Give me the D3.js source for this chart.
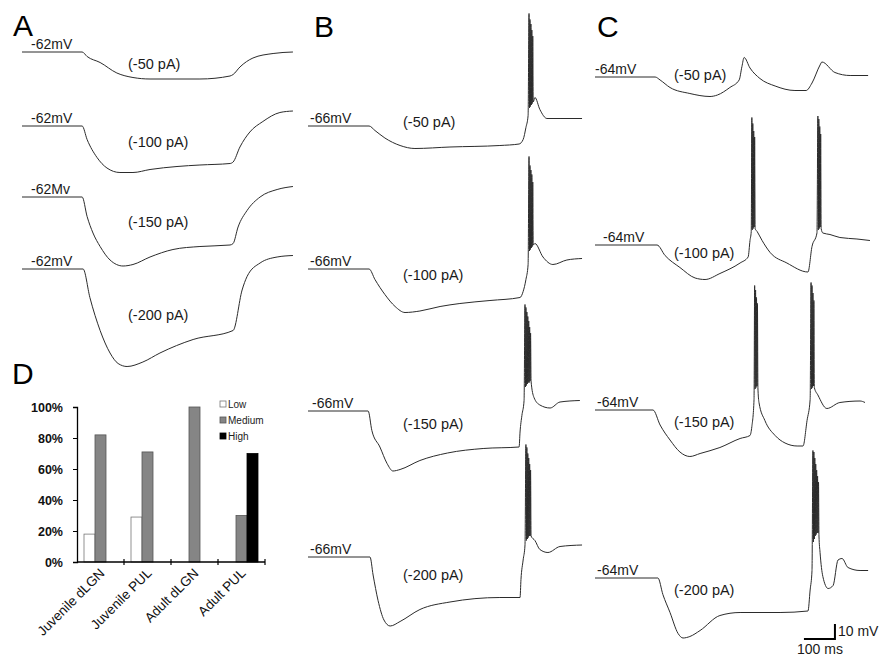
<!DOCTYPE html>
<html>
<head>
<meta charset="utf-8">
<script src="https://cdn.jsdelivr.net/npm/d3@7/dist/d3.min.js"></script>
<style>
  body { margin: 0; background: #fff; }
  svg { display: block; font-family: Arial, "Liberation Sans", sans-serif; }
</style>
</head>
<body>
<svg id="chart" width="890" height="656"></svg>
<script>
// ---- panel D data ----
const groups = ['Juvenile dLGN', 'Juvenile PUL', 'Adult dLGN', 'Adult PUL'];
const seriesNames = ['Low', 'Medium', 'High'];
const lowVals = [0.18, 0.29, 0, 0];
const mediumVals = [0.82, 0.71, 1.00, 0.30];
const highVals = [0, 0, 0, 0.70];
const yTicks = [0, 0.2, 0.4, 0.6, 0.8, 1.0];

// ---- trace labels ----
const stepLabels = ['(-50 pA)', '(-100 pA)', '(-150 pA)', '(-200 pA)'];
const restLabelsA = ['-62mV', '-62mV', '-62Mv', '-62mV'];
const restLabelsB = ['-66mV', '-66mV', '-66mV', '-66mV'];
const restLabelsC = ['-64mV', '-64mV', '-64mV', '-64mV'];

// ---- traces: [time ms, membrane potential mV] ----
const traceA1 = [[0,-62],[194,-62],[210,-65],[252,-69],[306,-76],[358,-79],[413,-80],[574,-80],[671,-78],[681,-77],[703,-72],[745,-66],[810,-63],[874,-62]];
const traceA2 = [[0,-62],[194,-62],[210,-71],[242,-83],[274,-90],[316,-93],[358,-93],[413,-91],[500,-89],[574,-88],[671,-87],[681,-86],[703,-76],[735,-66],[777,-59],[832,-53],[874,-52]];
const traceA3 = [[0,-62],[194,-62],[210,-75],[229,-86],[252,-95],[284,-104],[326,-108],[358,-107],[413,-102],[487,-97],[574,-95],[671,-94],[681,-93],[697,-82],[726,-71],[768,-62],[823,-57],[874,-55]];
const traceA4 = [[0,-62],[197,-62],[219,-81],[252,-103],[284,-118],[310,-125],[339,-127],[390,-124],[445,-118],[552,-109],[681,-103],[710,-76],[726,-67],[768,-58],[823,-54],[874,-53]];

const traceB1 = [[0,-66],[197,-66],[216,-69],[248,-74],[297,-79],[345,-81],[458,-80],[619,-79],[681,-78],[694,-75],[703,-67],[710,-59],
  [713,9],[714.5,-54],[716,5],[717.5,-53],[719,2],[720.5,-52],[722,-2],[723.5,-51],[725,-6],[726.5,-50],
  [732,-47],[748,-55],[771,-61],[813,-61],[884,-61]];
const traceB2 = [[0,-66],[197,-66],[216,-73],[248,-83],[281,-91],[313,-95],[361,-94],[426,-91],[490,-89],[587,-87],[684,-85],[694,-81],[703,-73],[710,-63],
  [713,9],[714.5,-54],[716,3],[717.5,-53],[719,0],[720.5,-52],[722,-3],[723.5,-51],[725,-8],[726.5,-50],
  [732,-49],[758,-58],[790,-63],[835,-60],[884,-59]];
const traceB3 = [[0,-66],[194,-66],[206,-79],[232,-90],[255,-101],[274,-106],[297,-105],[361,-99],[450,-94],[565,-91],[681,-90],[684,-80],[690,-69],[697,-59],
  [700,5],[701.5,-50],[703,3],[704.5,-49],[706,0],[707.5,-48],[709,-3],[710.5,-47],[712,-6],[713.5,-47],[715,-10],[716.5,-46],[718,-14],[719.5,-46],
  [729,-57],[748,-62],[781,-64],[813,-60],[877,-59]];
const traceB4 = [[0,-66],[200,-66],[210,-78],[226,-95],[245,-108],[265,-112],[297,-109],[361,-101],[458,-96],[619,-93],[684,-93],[687,-81],[694,-68],[700,-58],
  [703,9],[704.5,-55],[706,7],[707.5,-54],[709,3],[710.5,-53],[712,0],[713.5,-52],[715,-4],[716.5,-52],[718,-8],[719.5,-52],
  [732,-55],[748,-61],[774,-63],[813,-59],[884,-58]];

const traceC1 = [[0,-64],[194,-64],[210,-66],[242,-71],[306,-75],[371,-77],[395,-76],[435,-71],[465,-66],[474,-57],[481,-51],[500,-58],[532,-65],[581,-70],[645,-73],[681,-73],[700,-68],[726,-56],[732,-54],[774,-61],[823,-63],[881,-63]];
const traceC2 = [[0,-64],[200,-64],[226,-71],[274,-79],[323,-86],[355,-87],[403,-83],[468,-76],[494,-72],[500,-61],[504,-55],
  [506,21],[507.5,-54],[509,17],[510.5,-53],[512,12],[513.5,-52],[515,8],[516.5,-53],
  [523,-55],[539,-61],[565,-69],[619,-76],[687,-82],[700,-65],[716,-56],
  [719,22],[720.5,-54],[722,20],[723.5,-53],[725,15],[726.5,-52],[728,10],[729.5,-53],
  [735,-56],[758,-57],[790,-59],[845,-60],[887,-61]];
const traceC3 = [[0,-64],[187,-64],[210,-74],[242,-84],[274,-92],[306,-95],[339,-93],[403,-89],[468,-83],[500,-81],[506,-75],[513,-57],
  [515,19],[516.5,-50],[518,16],[519.5,-49],[521,11],[522.5,-48],[524,7],[525.5,-49],
  [529,-59],[548,-71],[581,-81],[613,-86],[652,-88],[671,-88],[684,-71],[694,-57],
  [697,21],[698.5,-50],[700,19],[701.5,-49],[703,14],[704.5,-48],[706,9],[707.5,-49],
  [719,-54],[748,-63],[790,-59],[855,-58],[871,-59]];
const traceC4 = [[0,-64],[203,-64],[219,-75],[242,-87],[268,-101],[284,-104],[306,-103],[339,-99],[403,-89],[468,-87],[597,-87],[687,-86],[694,-72],[700,-59],
  [703,21],[704.5,-40],[706,20],[707.5,-38],[709,16],[710.5,-36],[712,12],[713.5,-35],[715,8],[716.5,-34],[718,4],[719.5,-34],[721,0],[722.5,-36],
  [726,-47],[735,-63],[752,-71],[768,-69],[784,-52],[797,-51],[816,-57],[855,-59],[881,-59]];

const svg = d3.select('#chart');
const ink = '#1a1a1a';
const traceInk = '#2b2b2b';
const pxPerMs = 0.31;
const pxPerMv = 1.5;

const panels = [
  { letter: 'A', lx: 13, ly: 36, x0: 22, rest: -62, traces: [traceA1, traceA2, traceA3, traceA4],
    bases: [52, 126, 197, 269], restLabels: restLabelsA, restX: [31, 31, 31, 31], stepX: 128, stepY: [69, 147, 227, 320] },
  { letter: 'B', lx: 314, ly: 37, x0: 308, rest: -66, traces: [traceB1, traceB2, traceB3, traceB4],
    bases: [126, 269, 411, 557], restLabels: restLabelsB, restX: [310, 310, 312, 310], stepX: 403, stepY: [127, 280, 429, 580] },
  { letter: 'C', lx: 597, ly: 37, x0: 595, rest: -64, traces: [traceC1, traceC2, traceC3, traceC4],
    bases: [77, 245, 410, 578], restLabels: restLabelsC, restX: [595, 603, 597, 597], stepX: 674, stepY: [80, 258, 427, 595] }
];

panels.forEach(p => {
  const x = d3.scaleLinear().domain([0, 900]).range([p.x0, p.x0 + 900 * pxPerMs]);
  p.x = x;

  svg.append('text')
    .attr('x', p.lx).attr('y', p.ly)
    .attr('fill', '#000')
    .style('font-size', '30px')
    .text(p.letter);

  p.traces.forEach((tr, i) => {
    const y = d3.scaleLinear()
      .domain([p.rest, p.rest + 10])
      .range([p.bases[i], p.bases[i] - 10 * pxPerMv]);

    const line = d3.line()
      .x(d => x(d[0]))
      .y(d => y(d[1]))
      .curve(d3.curveMonotoneX);

    svg.append('path')
      .datum(tr)
      .attr('d', line)
      .attr('fill', 'none')
      .attr('stroke', traceInk)
      .attr('stroke-width', 1)
      .attr('stroke-linejoin', 'round');

    svg.append('text')
      .attr('x', p.restX[i]).attr('y', p.bases[i] - 3)
      .attr('fill', ink)
      .style('font-size', '14px')
      .text(p.restLabels[i]);

    svg.append('text')
      .attr('x', p.stepX).attr('y', p.stepY[i])
      .attr('fill', ink)
      .style('font-size', '14.5px')
      .text(stepLabels[i]);
  });
});

// scale bar (panel C time scale)
const xC = panels[2].x;
const yBar = d3.scaleLinear().domain([0, 10]).range([639, 639 - 10 * pxPerMv]);
svg.append('path')
  .attr('d', `M${xC(674)},${yBar(0)}H${xC(774)}V${yBar(10)}`)
  .attr('fill', 'none')
  .attr('stroke', '#000')
  .attr('stroke-width', 2);
svg.append('text').attr('x', xC(774) + 3).attr('y', 636)
  .style('font-size', '14px').attr('fill', ink).text('10 mV');
svg.append('text').attr('x', 797).attr('y', 654)
  .style('font-size', '14px').attr('fill', ink).text('100 ms');

// ---- panel D bar chart ----
svg.append('text')
  .attr('x', 12).attr('y', 384)
  .style('font-size', '30px')
  .text('D');

const xBand = d3.scaleBand().domain(groups).range([77, 265]);
const xInner = d3.scaleBand().domain(seriesNames).range([7, xBand.bandwidth() - 7]);
const yPct = d3.scaleLinear().domain([0, 1]).range([562, 407]);

const fills = { Low: '#ffffff', Medium: '#858585', High: '#000000' };
const strokes = { Low: '#777777', Medium: '#555555', High: '#000000' };
const valsBySeries = { Low: lowVals, Medium: mediumVals, High: highVals };

const barData = [];
groups.forEach((g, gi) => {
  seriesNames.forEach(s => {
    const v = valsBySeries[s][gi];
    if (v > 0) barData.push({ g, s, v });
  });
});

svg.append('g')
  .selectAll('rect')
  .data(barData)
  .enter()
  .append('rect')
  .attr('x', d => xBand(d.g) + xInner(d.s))
  .attr('y', d => yPct(d.v))
  .attr('width', xInner.bandwidth())
  .attr('height', d => yPct(0) - yPct(d.v))
  .attr('fill', d => fills[d.s])
  .attr('stroke', d => strokes[d.s])
  .attr('stroke-width', 0.8);

const yAxis = svg.append('g')
  .attr('transform', 'translate(77,0)')
  .call(d3.axisLeft(yPct).tickValues(yTicks).tickFormat(d3.format('.0%')).tickSize(4).tickPadding(10));
yAxis.selectAll('text')
  .style('font-size', '12.5px')
  .style('font-weight', 'bold')
  .style('font-family', 'Arial, "Liberation Sans", sans-serif')
  .attr('fill', '#111');
yAxis.select('.domain').attr('stroke', '#000').attr('stroke-width', 1.3);

// x axis with ticks between categories
svg.append('line')
  .attr('x1', 77).attr('x2', 265)
  .attr('y1', yPct(0)).attr('y2', yPct(0))
  .attr('stroke', '#000').attr('stroke-width', 1.3);
svg.append('g')
  .selectAll('line')
  .data(groups)
  .enter()
  .append('line')
  .attr('x1', d => xBand(d) + xBand.bandwidth())
  .attr('x2', d => xBand(d) + xBand.bandwidth())
  .attr('y1', yPct(0) - 3).attr('y2', yPct(0) + 3)
  .attr('stroke', '#000').attr('stroke-width', 1.2);

svg.append('g')
  .selectAll('text')
  .data(groups)
  .enter()
  .append('text')
  .attr('transform', d => `translate(${xBand(d) + xBand.bandwidth() / 2 + 5},${yPct(0) + 12}) rotate(-45)`)
  .attr('text-anchor', 'end')
  .style('font-size', '13.5px')
  .attr('fill', '#111')
  .text(d => d);

// legend
const legend = svg.append('g').attr('transform', 'translate(220,404)');
seriesNames.forEach((s, i) => {
  legend.append('rect')
    .attr('x', 0).attr('y', i * 16 - 3)
    .attr('width', 6).attr('height', 6)
    .attr('fill', fills[s])
    .attr('stroke', strokes[s])
    .attr('stroke-width', 0.8);
  legend.append('text')
    .attr('x', 8).attr('y', i * 16 + 3.5)
    .style('font-size', '10px')
    .attr('fill', '#222')
    .text(s);
});
</script>
</body>
</html>
